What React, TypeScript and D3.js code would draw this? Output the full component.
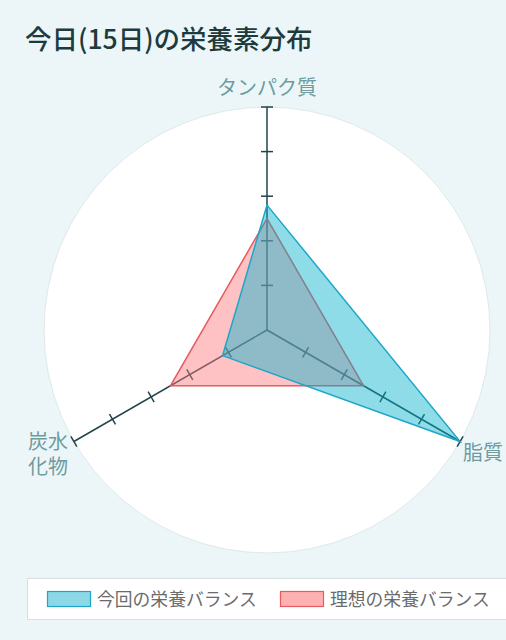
import { useEffect, useRef } from "react";
import * as d3 from "d3";

// nutrient axes (clockwise from top)
const AXES = ["タンパク質", "脂質", "炭水化物"];
const CURRENT = [56, 100, 23];
const IDEAL = [50, 50, 50];
const TICKS = [20, 40, 60, 80, 100];
const MAX_VALUE = 100;
const SERIES = ["今回の栄養バランス", "理想の栄養バランス"];
const TITLE = "今日(15日)の栄養素分布";

const FONT = "'Noto Sans CJK JP', 'Noto Sans', sans-serif";

export default function App() {
	const ref = useRef<SVGSVGElement>(null);

	useEffect(() => {
		document.body.style.margin = "0";
		const svg = d3.select(ref.current);
		svg.selectAll("*").remove();

		const width = 506;
		const height = 640;
		const cx = 267;
		const cy = 330;
		const R = 223;

		svg.append("rect")
			.attr("width", width)
			.attr("height", height)
			.attr("fill", "#ecf6f8");

		svg.append("text")
			.attr("x", 25)
			.attr("y", 49)
			.attr("font-family", FONT)
			.attr("font-size", "26.5px")
			.attr("font-weight", 500)
			.attr("fill", "#1d3b3d")
			.text(TITLE);

		const g = svg.append("g").attr("transform", `translate(${cx},${cy})`);

		const r = d3.scaleLinear().domain([0, MAX_VALUE]).range([0, R]);
		const angle = d3.scaleLinear()
			.domain([0, AXES.length])
			.range([0, 2 * Math.PI]);

		// background disc
		g.append("circle")
			.attr("r", R)
			.attr("fill", "#ffffff")
			.attr("stroke", "#dde9ea")
			.attr("stroke-width", 1);

		// axes with ticks
		AXES.forEach((name, i) => {
			const a = angle(i);
			const ux = Math.sin(a);
			const uy = -Math.cos(a);
			g.append("line")
				.attr("x1", 0)
				.attr("y1", 0)
				.attr("x2", ux * r(MAX_VALUE))
				.attr("y2", uy * r(MAX_VALUE))
				.attr("stroke", "#22444a")
				.attr("stroke-width", 1.5);

			TICKS.forEach(t => {
				const px = ux * r(t);
				const py = uy * r(t);
				const half = 6;
				g.append("line")
					.attr("x1", px - uy * half)
					.attr("y1", py + ux * half)
					.attr("x2", px + uy * half)
					.attr("y2", py - ux * half)
					.attr("stroke", "#22444a")
					.attr("stroke-width", 1.5);
			});
		});

		const radial = d3.lineRadial<number>()
			.angle((_, i) => angle(i))
			.radius(d => r(d))
			.curve(d3.curveLinearClosed);

		g.append("path")
			.attr("d", radial(IDEAL))
			.attr("fill", "rgb(255,120,125)")
			.attr("fill-opacity", 0.45)
			.attr("stroke", "#e85b5e")
			.attr("stroke-width", 1.5);

		g.append("path")
			.attr("d", radial(CURRENT))
			.attr("fill", "rgb(0,176,206)")
			.attr("fill-opacity", 0.44)
			.attr("stroke", "#1ea6c8")
			.attr("stroke-width", 1.5);

		// axis labels
		const labelStyle = (sel: d3.Selection<SVGTextElement, unknown, null, undefined>) =>
			sel.attr("font-family", FONT)
				.attr("font-size", "20px")
				.attr("fill", "#6c9c9f");

		svg.append("text")
			.attr("x", cx)
			.attr("y", 95)
			.attr("text-anchor", "middle")
			.call(labelStyle)
			.text(AXES[0]);

		svg.append("text")
			.attr("x", 463)
			.attr("y", 460)
			.call(labelStyle)
			.text(AXES[1]);

		svg.append("text")
			.attr("x", 28)
			.attr("y", 449)
			.call(labelStyle)
			.text(AXES[2].slice(0, 2));
		svg.append("text")
			.attr("x", 28)
			.attr("y", 474)
			.call(labelStyle)
			.text(AXES[2].slice(2));

		// legend
		svg.append("rect")
			.attr("x", 27.5)
			.attr("y", 578.5)
			.attr("width", 490)
			.attr("height", 41)
			.attr("fill", "#ffffff")
			.attr("stroke", "#d6e0e0");

		const swatches = [
			{ fill: "#8bd8e7", stroke: "#1ea6c8", x: 47, tx: 97 },
			{ fill: "#ffb1b2", stroke: "#e85b5e", x: 280, tx: 330 }
		];
		SERIES.forEach((name, i) => {
			const s = swatches[i];
			svg.append("rect")
				.attr("x", s.x + 0.5)
				.attr("y", 591.5)
				.attr("width", 43)
				.attr("height", 15)
				.attr("fill", s.fill)
				.attr("stroke", s.stroke)
				.attr("stroke-width", 1.2);
			svg.append("text")
				.attr("x", s.tx)
				.attr("y", 605.5)
				.attr("font-family", FONT)
				.attr("font-size", "17.8px")
				.attr("fill", "#6b6b6b")
				.text(name);
		});
	}, []);

	return (
		<svg
			ref={ref}
			width={506}
			height={640}
			style={{ display: "block", position: "absolute", left: 0, top: 0 }}
		/>
	);
}
